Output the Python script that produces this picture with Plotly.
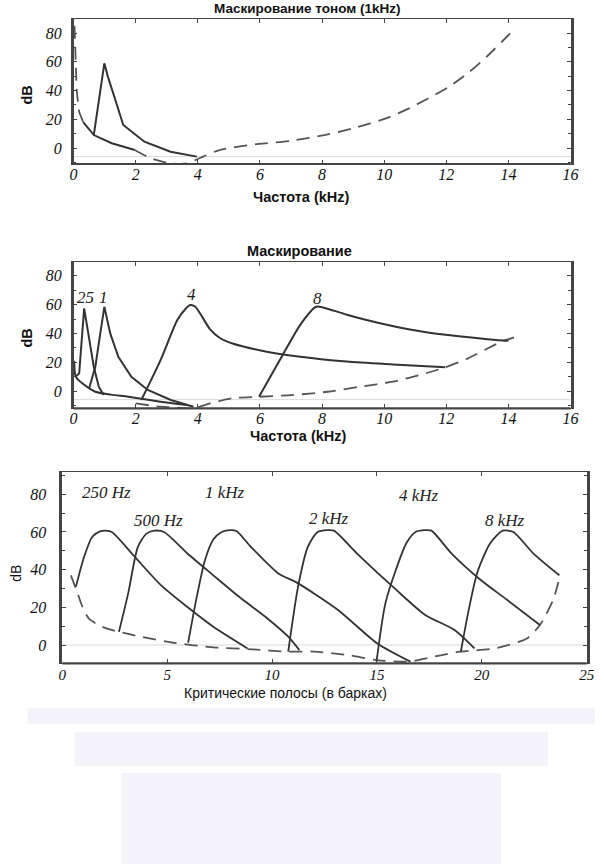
import plotly.graph_objects as go

W, H = 604, 864
OFF = 0

# ---------------- data: chart 1 (Маскирование тоном 1 kHz) ----------------
top_thr_f = [0.03, 0.06, 0.10, 0.18, 0.31, 0.65, 1.23, 1.97, 2.49, 3.12, 3.65, 4.17, 4.70,
             5.96, 7.00, 8.07, 9.00, 10.06, 10.80, 11.43, 12.06, 12.69, 13.30, 13.95, 14.20]
top_thr_db = [85, 62, 40, 25, 18, 9, 3.3, -1.4, -7.2, -10.7, -10.7, -6, -1.4,
              2.8, 5, 9, 13.7, 20.6, 27.6, 34.6, 42.2, 52, 63.5, 77.4, 82.6]
top_mask_f = [0.65, 0.99, 1.10, 1.23, 1.60, 2.28, 3.12, 3.97]
top_mask_db = [9, 58.9, 50, 41.5, 16, 4.4, -2.6, -6]

# ---------------- data: chart 2 (Маскирование) ----------------
mid_low_f = [0.02, 0.07, 0.30, 0.70, 1.20, 1.76, 2.80, 3.65]
mid_low_db = [21, 10, 5, -0.5, -2.5, -4, -7.4, -9.7]
mid_thr_f = [2.00, 2.80, 3.30, 3.86, 4.39, 5.12, 5.97, 7.02, 8.18, 9.23, 10.28, 11.34,
             11.97, 12.70, 13.65, 14.18]
mid_thr_db = [-8.6, -10.9, -11.5, -12, -8.6, -5, -4, -2.8, -0.5, 3, 6.5, 12.3,
              16.5, 22.7, 33, 37.3]
m025_f = [0.07, 0.18, 0.34, 0.50, 0.65, 0.81, 0.97]
m025_db = [10, 12.3, 57.4, 35, 16.9, 3, -2.8]
m1_f = [0.50, 0.70, 0.86, 0.99, 1.18, 1.44, 1.86, 2.39, 3.13, 3.86]
m1_db = [1.9, 16.9, 40, 58.5, 40, 23.8, 9.9, 0.7, -6.25, -10.9]
m4_f = [2.18, 2.80, 3.34, 3.60, 3.76, 3.92, 4.07, 4.39, 4.70, 5.12, 6.18, 7.23, 8.80, 10.28, 11.97]
m4_db = [-6.25, 21.5, 49.3, 57, 59.7, 58.5, 54, 43, 37, 33, 27.5, 24, 20.5, 18.5, 16.5]
m8_f = [5.97, 6.70, 7.33, 7.81, 8.20, 8.80, 9.40, 10.30, 11.30, 12.40, 13.60, 14.00]
m8_db = [-4, 23.8, 47, 58.5, 57, 53, 49.5, 45, 41, 38, 35.5, 35]
mid_labels = ["25", "1", "4", "8"]
mid_label_f = [0.38, 0.97, 3.81, 7.86]
mid_label_db = [65.3, 65.3, 66.7, 64.4]

# ---------------- data: chart 3 (критические полосы) ----------------
bk_thr_b = [0.41, 0.73, 0.96, 1.27, 1.90, 2.70, 3.76, 5.30, 7.20, 9.06, 10.77, 12.0, 13.6, 15.0,
            16.5, 18.1, 19.0, 20.6, 22.15, 22.77, 23.4, 23.7]
bk_thr_db = [37, 27.4, 20.3, 14, 9.7, 7, 4.4, 1.2, -1.2, -2.3, -3.5, -3.5, -5.3, -8,
             -8.8, -5.3, -3.5, -1.8, 3.5, 10.6, 24, 35.4]
b250_b = [0.65, 1.04, 1.43, 1.80, 2.07, 2.36, 3.45, 4.70, 5.95, 7.20, 8.83]
b250_db = [31, 46.9, 57.5, 60.3, 60.7, 60, 46.9, 31.8, 20.3, 9.7, -1.8]
b500_b = [2.70, 3.14, 3.60, 4.00, 4.38, 4.85, 5.95, 7.20, 8.43, 9.68, 10.77, 11.30]
b500_db = [7, 27.4, 52, 59, 60.7, 60, 48.7, 37, 25.6, 15, 4.4, -2.7]
b1k_b = [6.0, 6.4, 6.8, 7.2, 7.6, 8.0, 8.3, 9.0, 10.3, 11.2, 13.1, 15.0, 16.6]
b1k_db = [1.2, 25, 45, 56, 60, 61, 60.5, 52, 38, 33, 19, 1, -8.8]
b2k_b = [10.77, 11.24, 11.70, 12.17, 12.64, 12.95, 14.04, 15.90, 17.30, 18.70, 19.65]
b2k_db = [-3.5, 31, 52, 60, 61, 60.7, 48.7, 29.5, 16, 8, -1.8]
b4k_b = [14.98, 15.40, 15.90, 16.40, 16.84, 17.30, 17.60, 18.55, 19.95, 21.20, 22.77]
b4k_db = [-8.8, 22, 39.8, 54, 60, 61, 60.7, 48.7, 34.5, 24, 10.6]
b8k_b = [19.0, 19.4, 19.8, 20.4, 21.0, 21.5, 22.45, 23.7]
b8k_db = [-3.5, 20, 39, 54, 60.7, 60, 48.7, 37]
bk_labels = ["250 Hz", "500 Hz", "1 kHz", "2 kHz", "4 kHz", "8 kHz"]
bk_label_b = [2.1, 4.6, 7.75, 12.72, 16.99, 21.1]
bk_label_db = [80.7, 66.3, 80.7, 67.4, 79.6, 66.3]

x_ticks_khz = [0, 2, 4, 6, 8, 10, 12, 14, 16]
x_ticks_bark = [0, 5, 10, 15, 20, 25]
y_ticks = [0, 20, 40, 60, 80]

# ---------------- figure ----------------
fig = go.Figure()

SOLID = dict(color="#333333", width=2)
DASH = dict(color="#555555", width=1.8, dash="13px,8px")

def add(x, y, xa, ya, line, shape="linear"):
    ln = dict(**line, shape=shape)
    if shape == "spline":
        ln["smoothing"] = 0.7
    fig.add_trace(go.Scatter(x=x, y=y, mode="lines", xaxis=xa, yaxis=ya,
                             line=ln, hoverinfo="skip"))

# chart 1
add(top_thr_f[:5], top_thr_db[:5], "x", "y", DASH)
add(top_thr_f[4:8], top_thr_db[4:8], "x", "y", SOLID)
add(top_thr_f[7:], top_thr_db[7:], "x", "y", DASH, "spline")
add(top_mask_f, top_mask_db, "x", "y", SOLID)

# chart 2
add(mid_low_f, mid_low_db, "x2", "y2", SOLID, "spline")
add(mid_thr_f, mid_thr_db, "x2", "y2", DASH, "spline")
add(m025_f, m025_db, "x2", "y2", SOLID)
add(m1_f, m1_db, "x2", "y2", SOLID)
add(m4_f, m4_db, "x2", "y2", SOLID, "spline")
add(m8_f, m8_db, "x2", "y2", SOLID, "spline")

# chart 3
add(bk_thr_b, bk_thr_db, "x3", "y3", DASH, "spline")
for bx, by in [(b250_b, b250_db), (b500_b, b500_db), (b1k_b, b1k_db),
               (b2k_b, b2k_db), (b4k_b, b4k_db), (b8k_b, b8k_db)]:
    add(bx, by, "x3", "y3", dict(color="#333333", width=1.8), "spline")

tickfont = dict(family="Liberation Serif", size=16, style="italic", color="#111")
tickfont_b = dict(family="Liberation Serif", size=15, style="italic", color="#111")

def px_x(p):
    return (p - OFF) / W

def px_y(p):
    return 1 - (p - OFF) / H

def xax(dom, rng, tv, standoff, font):
    return dict(domain=[px_x(dom[0]), px_x(dom[1])], range=rng, tickvals=tv,
                ticks="inside", ticklen=4, tickcolor="#444", mirror="ticks",
                showline=True, linecolor="#444", linewidth=1, showgrid=False,
                zeroline=False, tickfont=font, ticklabelstandoff=standoff)

def yax(dom, rng, standoff):
    return dict(domain=[px_y(dom[1]), px_y(dom[0])], range=rng, tickvals=y_ticks,
                ticks="inside", ticklen=4, tickcolor="#444", mirror="ticks",
                showline=True, linecolor="#444", linewidth=2.5, showgrid=False,
                zeroline=False, tickfont=tickfont, ticklabelstandoff=standoff,
                minor=dict(dtick=10, ticks="inside", ticklen=3, tickcolor="#444"))

fig.update_layout(
    width=W, height=H, margin=dict(l=0, r=0, t=0, b=0), autosize=False,
    paper_bgcolor="white", plot_bgcolor="white", showlegend=False,
    xaxis=dict(**xax((71, 578), [0, 16], x_ticks_khz, -4, tickfont), anchor="y"),
    yaxis=dict(**yax((19, 164), [-11.13, 89.74], 6), anchor="x"),
    xaxis2=dict(**xax((71, 578), [0, 16], x_ticks_khz, -5, tickfont), anchor="y2"),
    yaxis2=dict(**yax((262.3, 408.3), [-12.0, 89.4], 6), anchor="x2"),
    xaxis3=dict(**xax((59.5, 594.5), [0, 25], x_ticks_bark, -2, tickfont_b), anchor="y3"),
    yaxis3=dict(**yax((471.7, 663.3), [-9.7, 92.0], 10), anchor="x3"),
)

shapes = []
# faint reference lines
for xr, yr, yv in [("x", "y", -6), ("x2", "y2", -6), ("x3", "y3", 0)]:
    shapes.append(dict(type="line", xref=f"{xr} domain", yref=yr, x0=0, x1=1, y0=yv, y1=yv,
                       line=dict(color="#d8d8d8", width=1), layer="below"))
# thicker bottom axes
for xr, yr in [("x", "y"), ("x2", "y2"), ("x3", "y3")]:
    shapes.append(dict(type="line", xref=f"{xr} domain", yref=f"{yr} domain", x0=0, x1=1,
                       y0=0, y1=0, line=dict(color="#444", width=2.2)))
# light page blocks at the bottom
for x0, y0, x1, y1 in [(24, 708, 603, 724), (72, 732, 555, 766), (120, 773, 507, 864)]:
    shapes.append(dict(type="rect", xref="paper", yref="paper", x0=px_x(x0), x1=px_x(x1),
                       y0=px_y(y1), y1=px_y(y0), fillcolor="#f3f3f9", line=dict(width=0)))
fig.update_layout(shapes=shapes)

ann = []
sans_b = dict(family="Liberation Sans", size=14.5, color="#111", weight="bold")
sans_r = dict(family="Liberation Sans", size=14, color="#111")

def text(t, x, y, font, angle=0, yanchor="middle"):
    ann.append(dict(text=t, x=px_x(x), y=px_y(y), xref="paper", yref="paper",
                    showarrow=False, xanchor="center", yanchor=yanchor, font=font,
                    textangle=angle))

text("Маскирование тоном (1kHz)", 309, 8, dict(sans_b, size=13.5))
text("dB", 23, 95, sans_b, -90)
text("Частота (kHz)", 304, 197, sans_b)
text("Маскирование", 301, 251, sans_b)
text("dB", 23, 338, sans_b, -90)
text("Частота (kHz)", 300, 436, sans_b)
text("dB", 12, 573, sans_r, -90)
text("Критические полосы (в барках)", 287, 693, sans_r)

lab_font = dict(family="Liberation Serif", size=17, style="italic", color="#222")
for t, x, y in zip(mid_labels, mid_label_f, mid_label_db):
    ann.append(dict(text=t, x=x, y=y, xref="x2", yref="y2", showarrow=False,
                    xanchor="center", yanchor="middle", font=lab_font))
for t, x, y in zip(bk_labels, bk_label_b, bk_label_db):
    ann.append(dict(text=t, x=x, y=y, xref="x3", yref="y3", showarrow=False,
                    xanchor="center", yanchor="middle", font=lab_font))
fig.update_layout(annotations=ann)

# remove the default 8px page margin so the 604x864 figure fills the window exactly
fig.write_html("out.html", config={"displayModeBar": False},
               post_script="document.body.style.margin='0';"
                           "document.documentElement.style.overflow='hidden';")
